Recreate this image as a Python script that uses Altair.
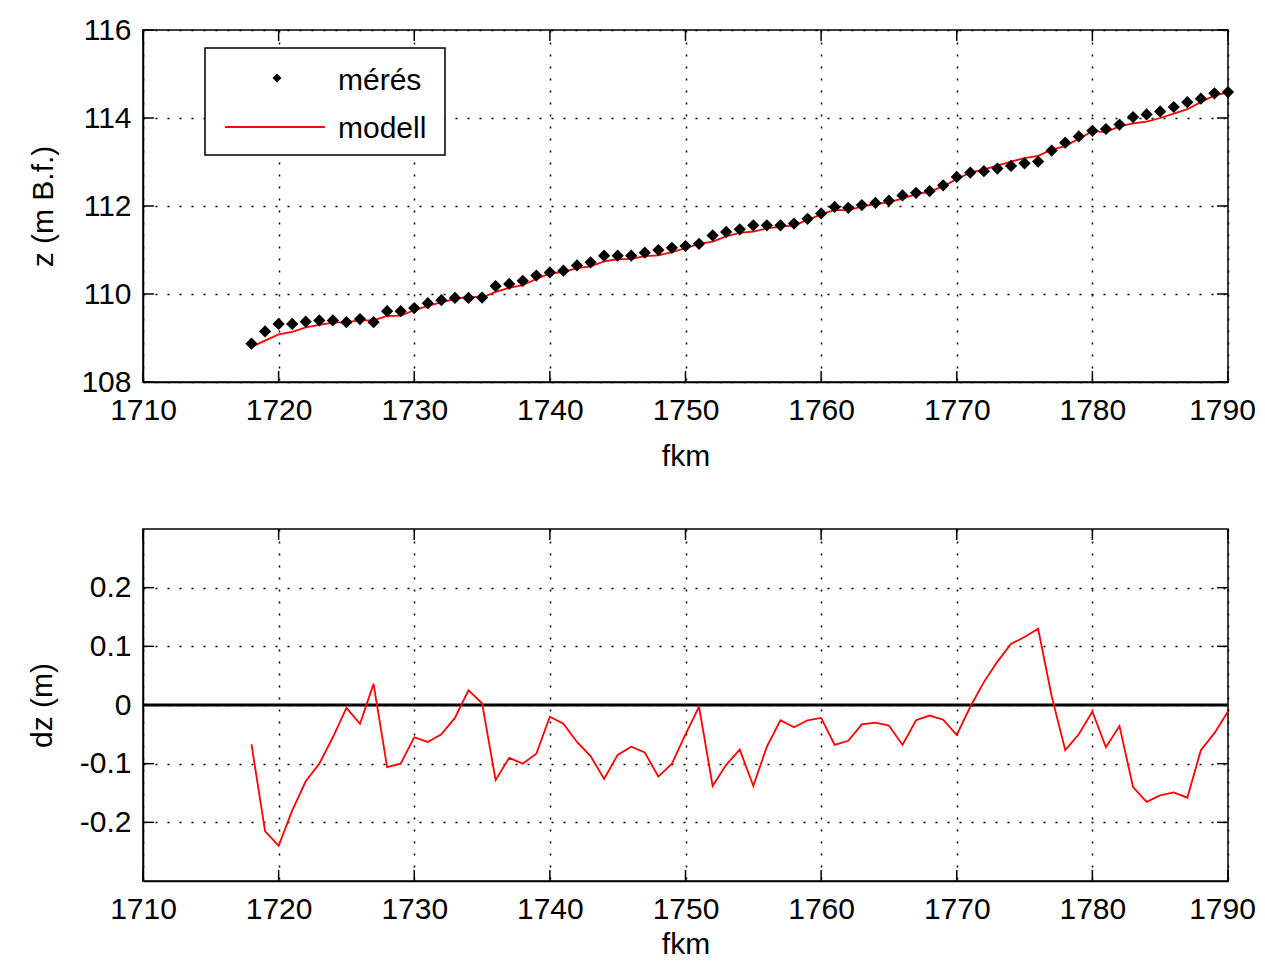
import altair as alt
import pandas as pd

km = [1718, 1719, 1720, 1721, 1722, 1723, 1724, 1725, 1726, 1727,
      1728, 1729, 1730, 1731, 1732, 1733, 1734, 1735, 1736, 1737,
      1738, 1739, 1740, 1741, 1742, 1743, 1744, 1745, 1746, 1747,
      1748, 1749, 1750, 1751, 1752, 1753, 1754, 1755, 1756, 1757,
      1758, 1759, 1760, 1761, 1762, 1763, 1764, 1765, 1766, 1767,
      1768, 1769, 1770, 1771, 1772, 1773, 1774, 1775, 1776, 1777,
      1778, 1779, 1780, 1781, 1782, 1783, 1784, 1785, 1786, 1787,
      1788, 1789, 1790]

meres = [108.87, 109.15, 109.32, 109.32, 109.37, 109.40, 109.40, 109.36, 109.43, 109.36,
         109.61, 109.61, 109.68, 109.79, 109.86, 109.91, 109.91, 109.92, 110.18, 110.23,
         110.30, 110.42, 110.49, 110.53, 110.65, 110.72, 110.87, 110.87, 110.87, 110.94,
         111.00, 111.05, 111.09, 111.14, 111.33, 111.41, 111.47, 111.56, 111.56, 111.56,
         111.60, 111.71, 111.83, 111.98, 111.96, 112.02, 112.07, 112.12, 112.24, 112.30,
         112.34, 112.47, 112.66, 112.76, 112.79, 112.85, 112.91, 112.97, 113.01, 113.26,
         113.44, 113.58, 113.71, 113.75, 113.85, 114.02, 114.08, 114.15, 114.25, 114.36,
         114.44, 114.56, 114.59]

modell = [108.80, 108.94, 109.08, 109.14, 109.24, 109.30, 109.35, 109.36, 109.40, 109.40,
          109.50, 109.51, 109.63, 109.73, 109.81, 109.89, 109.94, 109.92, 110.05, 110.14,
          110.20, 110.34, 110.47, 110.50, 110.59, 110.63, 110.74, 110.79, 110.80, 110.86,
          110.88, 110.95, 111.04, 111.14, 111.19, 111.31, 111.39, 111.42, 111.49, 111.53,
          111.56, 111.68, 111.81, 111.91, 111.90, 111.99, 112.04, 112.09, 112.17, 112.27,
          112.32, 112.45, 112.61, 112.76, 112.83, 112.92, 113.01, 113.09, 113.14, 113.28,
          113.36, 113.53, 113.70, 113.68, 113.81, 113.88, 113.92, 114.00, 114.10, 114.20,
          114.36, 114.51, 114.58]

dz = [-0.067, -0.215, -0.240, -0.180, -0.130, -0.100, -0.055, -0.005, -0.032, 0.036,
      -0.106, -0.100, -0.055, -0.063, -0.050, -0.022, 0.025, 0.003, -0.128, -0.090,
      -0.100, -0.083, -0.020, -0.032, -0.063, -0.087, -0.126, -0.085, -0.071, -0.081,
      -0.122, -0.100, -0.050, -0.003, -0.138, -0.102, -0.076, -0.138, -0.071, -0.026,
      -0.038, -0.026, -0.022, -0.068, -0.061, -0.033, -0.030, -0.035, -0.068, -0.026,
      -0.018, -0.025, -0.051, -0.003, 0.039, 0.074, 0.104, 0.116, 0.130, 0.015,
      -0.077, -0.050, -0.011, -0.072, -0.036, -0.140, -0.165, -0.154, -0.149, -0.158,
      -0.077, -0.048, -0.011]

x_ticks = [1710, 1720, 1730, 1740, 1750, 1760, 1770, 1780, 1790]
z_ticks = [108, 110, 112, 114, 116]
dz_ticks = [-0.2, -0.1, 0.0, 0.1, 0.2]
legend_labels = ["mérés", "modell"]

W, H, T = 1085, 352, 11
FONT = "Liberation Sans"

df_top = pd.DataFrame({"km": km, "meres": meres, "modell": modell})
df_bot = pd.DataFrame({"km": km, "dz": dz})

x_scale = alt.Scale(domain=[1710, 1790], nice=False, zero=False)
z_scale = alt.Scale(domain=[108, 116], nice=False, zero=False)
dz_scale = alt.Scale(domain=[-0.3, 0.3], nice=False, zero=False)

last_shift = {"condition": {"test": "datum.value == 1790", "value": -6}, "value": 0}
x_axis = alt.Axis(values=x_ticks, format="d", title="fkm", titlePadding=16,
                  labelOffset=last_shift)
x_axis_b = alt.Axis(values=x_ticks, format="d", title="fkm", titlePadding=5,
                    labelOffset=last_shift)
z_axis = alt.Axis(values=z_ticks, format="d", title="z (m B.f.)")
dz_axis = alt.Axis(values=dz_ticks, title="dz (m)",
                   labelExpr="datum.value == 0 ? '0' : (datum.value < 0 ? '-' + format(-datum.value, '.1f') : format(datum.value, '.1f'))")

X = alt.X("km:Q", scale=x_scale, axis=x_axis)

# ---------- top panel ----------
line_top = alt.Chart(df_top).mark_line(color="#ff0000", strokeWidth=1.8).encode(
    x=X, y=alt.Y("modell:Q", scale=z_scale, axis=z_axis))
pts_top = alt.Chart(df_top).mark_point(shape="diamond", filled=True, color="black",
                                        size=150, opacity=1).encode(
    x=X, y=alt.Y("meres:Q", scale=z_scale, axis=z_axis))

def x_tick_layers(scale, axis):
    d = alt.Chart(pd.DataFrame({"km": x_ticks}))
    xx = alt.X("km:Q", scale=scale, axis=axis)
    return [
        d.mark_rule(color="black", strokeWidth=1.5).encode(x=xx, y=alt.value(H - T), y2=alt.value(H)),
        d.mark_rule(color="black", strokeWidth=1.5).encode(x=xx, y=alt.value(0), y2=alt.value(T)),
    ]

def y_tick_layers(vals, field, scale, axis):
    d = alt.Chart(pd.DataFrame({field: vals}))
    yy = alt.Y(f"{field}:Q", scale=scale, axis=axis)
    return [
        d.mark_rule(color="black", strokeWidth=1.5).encode(y=yy, x=alt.value(0), x2=alt.value(T)),
        d.mark_rule(color="black", strokeWidth=1.5).encode(y=yy, x=alt.value(W - T), x2=alt.value(W)),
    ]

one = pd.DataFrame({"a": [0]})
leg_box = alt.Chart(one).mark_rect(fill="white", stroke="black", strokeWidth=1.5).encode(
    x=alt.value(62), x2=alt.value(302), y=alt.value(18), y2=alt.value(125))
leg_pt = alt.Chart(one).mark_point(shape="diamond", filled=True, color="black", size=80,
                                   opacity=1).encode(x=alt.value(134), y=alt.value(48))
leg_line = alt.Chart(one).mark_rule(color="#ff0000", strokeWidth=1.8).encode(
    x=alt.value(82), x2=alt.value(182), y=alt.value(97))
leg_t1 = alt.Chart(pd.DataFrame({"t": [legend_labels[0]]})).mark_text(
    align="left", baseline="middle", font=FONT, fontSize=30, color="black").encode(
    x=alt.value(195), y=alt.value(51), text="t:N")
leg_t2 = alt.Chart(pd.DataFrame({"t": [legend_labels[1]]})).mark_text(
    align="left", baseline="middle", font=FONT, fontSize=30, color="black").encode(
    x=alt.value(195), y=alt.value(99), text="t:N")

top = alt.layer(
    line_top, pts_top,
    *x_tick_layers(x_scale, x_axis),
    *y_tick_layers(z_ticks, "modell", z_scale, z_axis),
    leg_box, leg_pt, leg_line, leg_t1, leg_t2,
).properties(width=W, height=H)

# ---------- bottom panel ----------
Xb = alt.X("km:Q", scale=x_scale, axis=x_axis_b)
zero = alt.Chart(pd.DataFrame({"dz": [0.0]})).mark_rule(color="black", strokeWidth=3).encode(
    y=alt.Y("dz:Q", scale=dz_scale, axis=dz_axis))
line_bot = alt.Chart(df_bot).mark_line(color="#ff0000", strokeWidth=1.8).encode(
    x=Xb, y=alt.Y("dz:Q", scale=dz_scale, axis=dz_axis))

bottom = alt.layer(
    zero, line_bot,
    *x_tick_layers(x_scale, x_axis_b),
    *y_tick_layers(dz_ticks, "dz", dz_scale, dz_axis),
).properties(width=W, height=H)

chart = alt.vconcat(top, bottom, spacing=55).properties(
    padding={"left": 18, "top": 6, "right": 0, "bottom": 0}
).configure_axis(
    labelFont=FONT, labelFontSize=30, labelColor="black",
    titleFont=FONT, titleFontSize=30, titleFontWeight="normal", titleColor="black",
    domainColor="black", domainWidth=1.5, ticks=False,
    grid=True, gridColor="black", gridDash=[2, 10], gridWidth=1.5, gridOpacity=1,
    labelFlush=False, labelOverlap=False,
).configure_axisX(labelPadding=13).configure_axisY(
    labelPadding=12, titlePadding=22
).configure_view(stroke="black", strokeWidth=1.5)

chart.save("out.html", embed_options={"renderer": "svg", "actions": False})
